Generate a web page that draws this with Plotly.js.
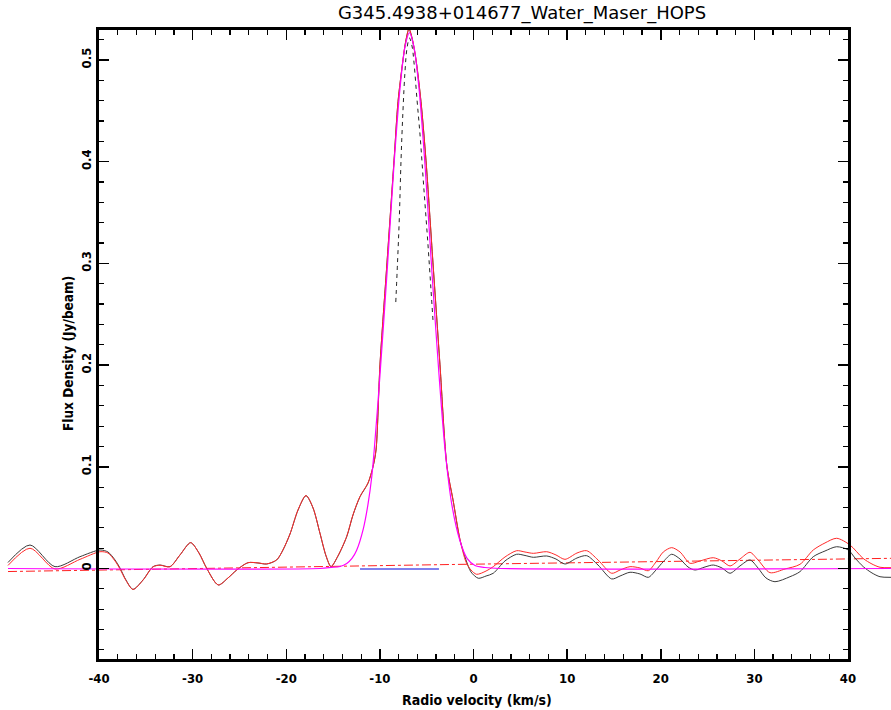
<!DOCTYPE html>
<html><head><meta charset="utf-8">
<script src="https://cdn.plot.ly/plotly-3.0.1.min.js"></script>
<style>html,body{margin:0;padding:0;background:#fff;} #chart{width:891px;height:710px;}</style>
</head><body><div id="chart"></div>
<script>
const chartTitle = "G345.4938+014677_Water_Maser_HOPS";
const xAxisLabel = "Radio velocity (km/s)";
const yAxisLabel = "Flux Density (Jy/beam)";
const xTickVals = [-40,-30,-20,-10,0,10,20,30,40];
const xTickText = ["-40","-30","-20","-10","0","10","20","30","40"];
const yTickVals = [0,0.1,0.2,0.3,0.4,0.5];
const yTickText = ["0","0.1","0.2","0.3","0.4","0.5"];

// baseline-subtracted spectrum (black)
const specVel = [-49.72,-47.37,-44.70,-42.03,-39.89,-39.04,-38.29,-37.76,-37.12,-36.37,-35.30,-34.23,-33.48,-32.42,-31.35,-30.21,-29.32,-28.50,-27.26,-26.22,-25.29,-24.09,-23.02,-22.09,-21.02,-20.35,-19.60,-18.74,-17.89,-17.14,-16.40,-15.75,-15.22,-14.47,-13.54,-12.87,-12.12,-11.27,-10.73,-10.41,-9.99,-9.24,-8.49,-8.06,-7.53,-7.21,-6.89,-6.57,-6.14,-5.61,-5.07,-4.33,-3.58,-2.83,-2.19,-1.44,-0.80,-0.27,0.51,1.34,2.11,3.36,4.61,5.50,6.39,7.82,8.81,9.77,11.05,12.09,13.30,14.76,15.65,16.72,17.78,18.67,19.49,20.27,21.17,22.06,22.91,23.66,24.73,25.61,26.54,27.40,28.46,29.53,30.39,31.24,32.20,33.80,34.87,36.29,37.54,38.79,40.03,40.75,41.63,42.56,43.42,44.59];
const specFlux = [0.0059,0.0231,0.0018,0.0116,0.0182,0.0162,0.0084,0.0005,-0.0113,-0.0205,-0.0113,0.0018,0.0034,0.0018,0.0133,0.0254,0.0152,0.0002,-0.0162,-0.0093,-0.0015,0.0057,0.0054,0.0044,0.0084,0.0182,0.0339,0.0575,0.0716,0.0595,0.0346,0.0123,0.0018,0.0123,0.0313,0.0526,0.0706,0.0838,0.1001,0.1165,0.2001,0.3004,0.4007,0.459,0.500,0.5197,0.5305,0.5216,0.500,0.459,0.4007,0.3004,0.2001,0.0998,0.0674,0.028,0.0084,-0.0034,-0.0096,-0.0074,-0.0047,0.0074,0.014,0.0128,0.011,0.0123,0.0093,0.0044,0.0103,0.0126,0.0034,-0.0103,-0.0074,-0.0037,-0.0054,-0.0087,-0.0015,0.0067,0.014,0.0093,0.0015,-0.0015,0.0015,0.0034,0.0005,-0.0047,0.0025,0.0084,0.0005,-0.0093,-0.013,-0.0081,-0.0031,0.0116,0.0172,0.0214,0.0182,0.0103,0.0018,-0.0044,-0.0081,-0.0087];

// raw spectrum (red)
const rawVel = [-49.72,-47.37,-44.70,-42.03,-39.89,-39.04,-38.29,-37.76,-37.12,-36.37,-35.30,-34.23,-33.48,-32.42,-31.35,-30.21,-29.32,-28.50,-27.26,-26.22,-25.29,-24.09,-23.02,-22.09,-21.02,-20.35,-19.60,-18.74,-17.89,-17.14,-16.40,-15.75,-15.22,-14.47,-13.54,-12.87,-12.12,-11.27,-10.73,-10.41,-9.99,-9.24,-8.49,-8.06,-7.53,-7.21,-6.89,-6.57,-6.14,-5.61,-5.07,-4.33,-3.58,-2.83,-2.19,-1.44,-0.80,-0.27,0.34,1.34,2.11,3.36,4.61,5.50,6.39,7.82,8.81,9.77,11.05,12.09,13.30,14.76,15.65,16.72,17.78,18.67,19.49,20.27,21.17,22.06,23.13,24.19,25.61,26.54,27.40,28.46,29.53,30.39,31.67,33.27,34.87,36.29,37.54,38.79,40.21,41.60,42.56,43.42,44.59];
const rawFlux = [0.003,0.0199,-0.0005,0.009,0.0165,0.0152,0.0074,-0.0005,-0.0118,-0.0206,-0.0115,0.0016,0.0032,0.0017,0.0133,0.0254,0.0152,0.0002,-0.0162,-0.0093,-0.0015,0.0057,0.0055,0.0045,0.0085,0.0183,0.034,0.0577,0.0718,0.0597,0.0348,0.0125,0.002,0.0126,0.0316,0.0529,0.0709,0.0841,0.1004,0.1168,0.2004,0.3008,0.4011,0.4594,0.5004,0.5201,0.5309,0.522,0.5004,0.4594,0.4011,0.3008,0.2005,0.1002,0.0678,0.0285,0.0064,-0.0015,-0.0057,-0.0025,0.0018,0.0113,0.0175,0.0162,0.0149,0.0165,0.0133,0.009,0.0152,0.0175,0.0084,-0.0047,-0.0015,0.0018,0.0005,-0.0022,0.0064,0.0162,0.0205,0.0162,0.0051,0.0074,0.0106,0.0074,0.0025,0.0093,0.0159,0.0084,-0.0041,-0.0005,0.0041,0.0182,0.0251,0.0297,0.0231,0.01,0.0044,0.0012,0.0008];

// baseline fit (red dash-dot)
const baseVel = [-49.72,-2.56,44.59];
const baseFlux = [-0.003,0.0039,0.010];

// gaussian fit (magenta)
const fitVel = [-49.72,-16.40,-15.22,-14.26,-13.54,-12.98,-12.48,-11.77,-11.27,-10.87,-10.60,-9.99,-9.24,-8.49,-7.85,-7.32,-6.84,-6.36,-5.82,-5.18,-4.43,-3.68,-3.04,-2.30,-1.44,-0.69,0.16,1.23,2.83,44.59];
const fitFlux = [0,0,0.001,0.002,0.005,0.010,0.018,0.039,0.063,0.090,0.117,0.190,0.290,0.397,0.472,0.513,0.527,0.513,0.472,0.397,0.290,0.190,0.117,0.062,0.027,0.010,0.003,0.001,0,0];

// component (black dashed)
const compVel = [-8.30,-8.12,-7.93,-7.74,-7.53,-7.32,-7.10,-6.84,-6.57,-6.36,-6.03,-5.71,-5.29,-4.86,-4.54,-4.33];
const compFlux = [0.262,0.300,0.3427,0.4017,0.4508,0.4882,0.5118,0.5216,0.5138,0.498,0.4607,0.4263,0.3722,0.3181,0.274,0.2444];

// fit window (blue)
const windowVel = [-12.12,-3.69];
const windowFlux = [-0.0005,-0.0005];

// ---- geometry ----
const W = 891, H = 710;
const FL = 99, FR = 848, FT = 30, FB = 659;
const xFrame = [-40, 40];
const yFrame = [-0.0890, 0.5295];
const pxV = (FR - FL) / (xFrame[1] - xFrame[0]);
const pxF = (FB - FT) / (yFrame[1] - yFrame[0]);
const xData = [xFrame[0] - FL / pxV, xFrame[1] + (W - FR) / pxV];
const yData = [yFrame[0] - (H - FB) / pxF, yFrame[1] + FT / pxF];

const tickFont = {family: "DejaVu Sans Condensed", size: 13, color: "#000", weight: "bold"};

const traces = [
  {x: baseVel, y: baseFlux, mode: "lines", line: {color: "#ff2020", width: 1, dash: "dashdot"}, hoverinfo: "skip"},
  {x: specVel, y: specFlux, mode: "lines", line: {color: "#3a3a3a", width: 1, shape: "spline", smoothing: 0.8}, hoverinfo: "skip"},
  {x: rawVel, y: rawFlux, mode: "lines", line: {color: "#ff2a2a", width: 1, shape: "spline", smoothing: 0.8}, hoverinfo: "skip"},
  {x: compVel, y: compFlux, mode: "lines", line: {color: "#222", width: 1, dash: "4px,4px", shape: "spline"}, hoverinfo: "skip"},
  {x: windowVel, y: windowFlux, mode: "lines", line: {color: "#8080ee", width: 2}, hoverinfo: "skip"},
  {x: fitVel, y: fitFlux, mode: "lines", line: {color: "#ff00ff", width: 1.2, shape: "spline", smoothing: 0.8}, hoverinfo: "skip"},
  {x: [], y: [], xaxis: "x2", yaxis: "y2", mode: "lines", hoverinfo: "skip"}
];

const layout = {
  width: W, height: H,
  margin: {l: 0, r: 0, t: 0, b: 0},
  paper_bgcolor: "#fff", plot_bgcolor: "rgba(0,0,0,0)",
  showlegend: false,
  title: {text: chartTitle, x: 522 / W, xanchor: "center", y: 1 - 13 / H, yanchor: "middle", yref: "container",
          font: {family: "DejaVu Sans", size: 18, color: "#000"}},
  xaxis: {domain: [0, 1], range: xData, visible: false, fixedrange: true},
  yaxis: {domain: [0, 1], range: yData, visible: false, fixedrange: true},
  xaxis2: {domain: [FL / W, FR / W], range: xFrame, anchor: "y2", showgrid: false, zeroline: false,
           showline: true, linewidth: 3, linecolor: "#000", mirror: "allticks",
           ticks: "inside", ticklen: 10, tickwidth: 1.5, tickcolor: "#000", ticklabelstandoff: 5,
           tickvals: xTickVals, ticktext: xTickText, tickfont: tickFont, automargin: false,
           minor: {dtick: 2, tick0: 0, ticks: "inside", ticklen: 5, tickwidth: 1.2, tickcolor: "#000", showgrid: false}},
  yaxis2: {domain: [(H - FB) / H, (H - FT) / H], range: yFrame, anchor: "x2", showgrid: false, zeroline: false,
           showline: true, linewidth: 3, linecolor: "#000", mirror: "allticks",
           ticks: "inside", ticklen: 10, tickwidth: 1.5, tickcolor: "#000",
           tickvals: yTickVals, ticktext: yTickText, tickfont: tickFont, tickangle: -90, automargin: false,
           minor: {dtick: 0.02, tick0: 0, ticks: "inside", ticklen: 5, tickwidth: 1.2, tickcolor: "#000", showgrid: false}},
  annotations: [
    {text: xAxisLabel, xref: "paper", yref: "paper", x: 477 / W, y: 1 - 700 / H, xanchor: "center", yanchor: "middle",
     showarrow: false, font: {family: "DejaVu Sans Condensed", size: 14, color: "#000", weight: "bold"}},
    {text: yAxisLabel, xref: "paper", yref: "paper", x: 68 / W, y: 1 - 354 / H, xanchor: "center", yanchor: "middle",
     textangle: -90, showarrow: false, font: {family: "DejaVu Sans Condensed", size: 13.5, color: "#000", weight: "bold"}}
  ]
};

Plotly.newPlot("chart", traces, layout, {staticPlot: true, displayModeBar: false});
</script>
</body></html>
